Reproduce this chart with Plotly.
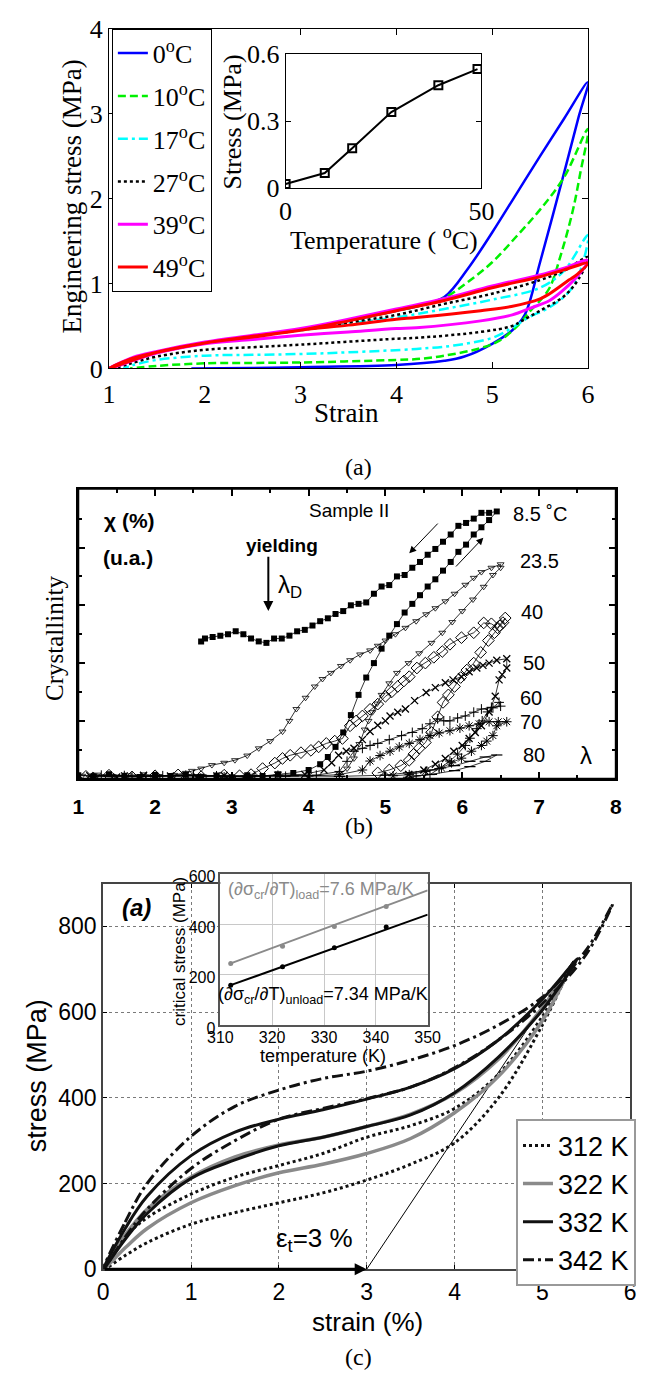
import plotly.graph_objects as go

W, H = 648, 1387
def px(x): return x / W
def py(y): return 1 - y / H

SERIF = "Liberation Serif"
SANS = "Liberation Sans"

# ---------------- panel (a) data ----------------
names_a = ["0<sup>o</sup>C", "10<sup>o</sup>C", "17<sup>o</sup>C", "27<sup>o</sup>C", "39<sup>o</sup>C", "49<sup>o</sup>C"]
colors_a = ["#0000FF", "#00F000", "#00FFFF", "#000000", "#FF00FF", "#FF0000"]
dashes_a = ["solid", "8px,4px", "10px,4px,3px,4px", "3px,3px", "solid", "solid"]

strain_0 = [1.0, 1.25, 1.5, 2.0, 2.5, 3.0, 3.5, 4.0, 4.25, 4.5, 4.75, 5.0, 5.25, 5.5, 5.75, 6.0,
            5.9, 5.75, 5.5, 5.34, 5.21, 5.0, 4.71, 4.5, 4.0, 3.0, 2.5, 1.86]
stress_0 = [0, 0.12, 0.19, 0.3, 0.38, 0.46, 0.56, 0.68, 0.74, 0.84, 1.18, 1.6, 2.05, 2.5, 2.94, 3.37,
            2.95, 2.3, 1.25, 0.63, 0.45, 0.29, 0.14, 0.09, 0.04, 0.015, 0.005, 0]
strain_10 = [1.0, 1.25, 1.5, 2.0, 2.5, 3.0, 3.5, 4.0, 4.25, 4.5, 4.75, 5.0, 5.25, 5.5, 5.75, 6.0,
             5.92, 5.84, 5.72, 5.6, 5.5, 5.4, 5.28, 5.08, 4.88, 4.5, 4.21, 4.0, 3.0, 2.5, 2.0, 1.5, 1.22]
stress_10 = [0, 0.12, 0.19, 0.3, 0.38, 0.46, 0.56, 0.68, 0.74, 0.83, 1.02, 1.25, 1.55, 1.87, 2.25, 2.82,
             2.3, 1.85, 1.35, 0.95, 0.8, 0.68, 0.52, 0.33, 0.24, 0.15, 0.11, 0.1, 0.07, 0.065, 0.06, 0.03, 0]
strain_17 = [1.0, 1.25, 1.5, 2.0, 2.5, 3.0, 3.5, 4.0, 4.5, 5.0, 5.5, 5.75, 6.0,
             5.92, 5.8, 5.6, 5.38, 5.21, 5.0, 4.6, 4.21, 3.5, 3.0, 2.5, 2.0, 1.5, 1.25, 1.15]
stress_17 = [0, 0.12, 0.19, 0.3, 0.38, 0.45, 0.53, 0.6, 0.7, 0.81, 0.95, 1.15, 1.57,
             1.15, 0.9, 0.72, 0.6, 0.48, 0.36, 0.27, 0.23, 0.19, 0.17, 0.16, 0.15, 0.1, 0.04, 0]
strain_27 = [1.0, 1.25, 1.5, 2.0, 2.5, 3.0, 3.5, 4.0, 4.5, 5.0, 5.5, 5.75, 6.0,
             5.9, 5.75, 5.5, 5.31, 5.21, 4.88, 4.21, 4.0, 3.0, 2.5, 2.0, 1.5, 1.2, 1.05]
stress_27 = [0, 0.12, 0.19, 0.3, 0.38, 0.45, 0.54, 0.63, 0.76, 0.88, 1.04, 1.15, 1.31,
             1.05, 0.85, 0.68, 0.56, 0.5, 0.43, 0.36, 0.35, 0.28, 0.25, 0.22, 0.14, 0.05, 0]
strain_39 = [1.0, 1.25, 1.5, 2.0, 2.5, 3.0, 3.5, 4.0, 4.5, 5.0, 5.5, 5.75, 6.0,
             5.9, 5.75, 5.6, 5.4, 5.21, 4.88, 4.21, 4.0, 3.5, 3.0, 2.5, 2.0, 1.5, 1.0]
stress_39 = [0, 0.13, 0.2, 0.31, 0.39, 0.47, 0.58, 0.7, 0.82, 0.97, 1.1, 1.18, 1.27,
             1.1, 0.93, 0.8, 0.71, 0.63, 0.56, 0.48, 0.47, 0.43, 0.39, 0.34, 0.29, 0.18, 0]
strain_49 = [1.0, 1.25, 1.5, 2.0, 2.5, 3.0, 3.5, 4.0, 4.5, 5.0, 5.5, 5.75, 6.0,
             5.9, 5.8, 5.6, 5.5, 5.2, 4.88, 4.21, 4.0, 3.5, 3.0, 2.5, 2.0, 1.5, 1.0]
stress_49 = [0, 0.12, 0.19, 0.3, 0.38, 0.45, 0.56, 0.68, 0.8, 0.95, 1.08, 1.16, 1.24,
             1.12, 1.04, 0.88, 0.82, 0.73, 0.68, 0.6, 0.58, 0.51, 0.45, 0.37, 0.3, 0.19, 0]
strains_a = [strain_0, strain_10, strain_17, strain_27, strain_39, strain_49]
stresses_a = [stress_0, stress_10, stress_17, stress_27, stress_39, stress_49]

inset_temp_a = [0, 10, 17, 27, 39, 49]
inset_stress_a = [0.019, 0.068, 0.179, 0.341, 0.461, 0.533]

# ---------------- panel (b) data ----------------
b85_x = [1.0, 1.2, 1.4, 1.6, 1.8, 2.0, 2.2, 2.4, 2.6, 2.8, 3.0, 3.2, 3.4, 3.6, 3.8, 4.0,
         4.15, 4.25, 4.35, 4.45, 4.55, 4.65, 4.75, 4.85, 4.95, 5.05, 5.15, 5.25, 5.35, 5.45, 5.55, 5.65,
         5.75, 5.85, 5.95, 6.05, 6.15, 6.25, 6.35, 6.45,
         6.35, 6.25, 6.15, 6.05, 5.95, 5.85, 5.75, 5.65, 5.55, 5.45, 5.35, 5.25, 5.15, 5.05, 4.95, 4.85,
         4.75, 4.65, 4.55, 4.45, 4.35, 4.25, 4.15, 4.05, 3.95, 3.85, 3.75, 3.65, 3.55, 3.45, 3.35, 3.25,
         3.15, 3.05, 2.95, 2.85, 2.75, 2.65, 2.6]
b85_y = [0.12, 0.08, 0.15, 0.1, 0.06, 0.13, 0.09, 0.14, 0.07, 0.11, 0.05, 0.12, 0.09, 0.15, 0.2, 0.3,
         0.5, 0.75, 1.1, 1.6, 2.2, 2.9, 3.5, 4.0, 4.5, 4.95, 5.35, 5.75, 6.05, 6.35, 6.65, 6.9,
         7.2, 7.5, 7.85, 8.1, 8.45, 8.7, 8.95, 9.25,
         9.2, 9.2, 9.0, 8.85, 8.75, 8.45, 8.2, 7.95, 7.75, 7.5, 7.3, 7.05, 7.0, 6.7, 6.65, 6.4,
         6.1, 6.05, 6.0, 5.8, 5.7, 5.55, 5.45, 5.3, 5.15, 5.1, 4.95, 4.85, 4.85, 4.7, 4.75, 4.85,
         5.0, 5.1, 5.0, 4.95, 4.9, 4.85, 4.75]
b235_x = [1.05, 1.25, 1.45, 1.65, 1.85, 2.05, 2.25, 2.4,
          2.48, 2.6, 2.74, 2.9, 3.04, 3.2, 3.35, 3.5, 3.66, 3.75, 3.84, 3.96, 4.08, 4.18, 4.29, 4.42,
          4.54, 4.67, 4.8, 4.9, 5.0, 5.13, 5.26, 5.4, 5.53, 5.65, 5.78, 5.9, 6.04, 6.15, 6.25, 6.38, 6.5,
          6.5, 6.4, 6.28, 6.14, 6.0, 5.87, 5.74, 5.6, 5.44, 5.3, 5.15, 5.05, 4.95, 4.89, 4.83, 4.78,
          4.73, 4.66, 4.59, 4.5, 4.4]
b235_y = [0.1, 0.14, 0.08, 0.12, 0.15, 0.09, 0.13, 0.2,
          0.27, 0.35, 0.47, 0.55, 0.64, 0.8, 1.05, 1.3, 1.63, 2.0, 2.41, 2.8, 3.19, 3.45, 3.66, 3.9,
          4.1, 4.3, 4.44, 4.6, 4.78, 5.0, 5.22, 5.45, 5.69, 5.9, 6.14, 6.4, 6.71, 6.95, 7.15, 7.3, 7.42,
          7.3, 7.05, 6.64, 6.2, 5.8, 5.42, 5.05, 4.7, 4.34, 4.0, 3.66, 3.3, 2.9, 2.6, 2.3, 2.0,
          1.7, 1.2, 0.7, 0.35, 0.15]
b40_x = [1.1, 1.4, 1.7, 2.0, 2.3, 2.6, 2.9, 3.1,
         3.25, 3.4, 3.56, 3.66, 3.76, 3.9, 4.03, 4.13, 4.23, 4.34, 4.44, 4.54, 4.62, 4.7, 4.8, 4.9,
         5.0, 5.08, 5.16, 5.24, 5.31, 5.41, 5.52, 5.63, 5.74, 5.84, 5.99, 6.15, 6.28, 6.38, 6.46, 6.56,
         6.53, 6.49, 6.42, 6.34, 6.24, 6.15, 6.06, 5.98, 5.9, 5.82, 5.75, 5.68, 5.6, 5.52, 5.44, 5.37,
         5.31, 5.2, 5.05, 4.9]
b40_y = [0.08, 0.12, 0.06, 0.1, 0.13, 0.07, 0.12, 0.1,
         0.14, 0.35, 0.54, 0.7, 0.81, 0.9, 0.98, 1.1, 1.22, 1.3, 1.39, 1.83, 2.0, 2.17, 2.4, 2.58,
         2.85, 3.0, 3.19, 3.38, 3.53, 3.83, 4.0, 4.2, 4.4, 4.65, 4.88, 5.05, 5.39, 5.36, 5.22, 5.56,
         5.4, 5.29, 5.05, 4.78, 4.37, 4.0, 3.76, 3.5, 3.19, 2.9, 2.64, 2.14, 1.6, 1.25, 1.05, 0.85,
         0.64, 0.45, 0.3, 0.2]
b50_x = [1.15, 1.5, 1.85, 2.2, 2.55, 2.9, 3.25, 3.6, 3.95, 4.2,
         4.3, 4.39, 4.49, 4.59, 4.7, 4.8, 4.9, 5.0, 5.06, 5.16, 5.26, 5.38, 5.53, 5.65, 5.78, 5.88,
         5.99, 6.09, 6.19, 6.27, 6.35, 6.45, 6.58,
         6.58, 6.52, 6.48, 6.43, 6.35, 6.25, 6.17, 6.09, 6.0, 5.89, 5.78, 5.65, 5.5, 5.3]
b50_y = [0.1, 0.06, 0.12, 0.09, 0.05, 0.11, 0.08, 0.12, 0.15, 0.3,
         0.55, 0.81, 0.95, 1.05, 1.35, 1.63, 1.85, 2.0, 2.17, 2.3, 2.41, 2.7, 2.98, 3.15, 3.32, 3.42,
         3.53, 3.7, 3.83, 3.92, 4.0, 4.1, 4.15,
         3.83, 3.6, 3.42, 2.85, 2.31, 1.83, 1.6, 1.39, 1.15, 0.95, 0.7, 0.5, 0.3, 0.15]
b60_x = [1.3, 1.7, 2.1, 2.5, 2.9, 3.3, 3.7, 4.1, 4.4,
         4.5, 4.59, 4.7, 4.8, 4.9, 5.05, 5.21, 5.35, 5.48, 5.58, 5.68, 5.76, 5.84, 5.94, 6.04, 6.15,
         6.25, 6.38, 6.5,
         6.48, 6.4, 6.33, 6.26, 6.19, 6.1, 6.04, 5.94, 5.84, 5.7, 5.58, 5.4]
b60_y = [0.12, 0.07, 0.1, 0.13, 0.06, 0.1, 0.08, 0.12, 0.25,
         0.6, 0.95, 1.05, 1.15, 1.22, 1.35, 1.49, 1.6, 1.73, 1.9, 2.07, 2.0, 2.0, 2.1, 2.17, 2.3,
         2.41, 2.47, 2.51,
         2.64, 2.45, 2.31, 2.0, 1.73, 1.4, 1.15, 0.85, 0.61, 0.35, 0.14, 0.1]
b70_x = [1.2, 1.6, 2.0, 2.4, 2.8, 3.2, 3.6, 4.0, 4.4, 4.7,
         4.8, 4.93, 5.06, 5.18, 5.31, 5.45, 5.58, 5.7, 5.84, 5.97, 6.09, 6.22, 6.35, 6.47, 6.58,
         6.45, 6.4, 6.32, 6.25, 6.12, 5.99, 5.86, 5.73, 5.52, 5.31, 5.1]
b70_y = [0.06, 0.11, 0.08, 0.12, 0.1, 0.05, 0.12, 0.09, 0.14, 0.3,
         0.61, 0.8, 0.95, 1.1, 1.22, 1.35, 1.49, 1.58, 1.66, 1.75, 1.83, 1.9, 1.97, 1.97, 1.97,
         1.83, 1.49, 1.3, 1.15, 0.95, 0.71, 0.55, 0.37, 0.25, 0.14, 0.1]
b80_x = [1.4, 2.0, 2.6, 3.2, 3.8, 4.4, 5.0, 5.3, 5.6, 5.9, 6.1, 6.3, 6.45, 6.3, 6.1, 5.9, 5.6, 5.3]
b80_y = [0.1, 0.08, 0.12, 0.07, 0.1, 0.08, 0.12, 0.2, 0.3, 0.45, 0.6, 0.75, 0.82, 0.6, 0.42, 0.28, 0.15, 0.05]
labels_b = ["8.5 \u02daC", "23.5", "40", "50", "60", "70", "80"]

# ---------------- panel (c) data ----------------
names_c = ["312 K", "322 K", "332 K", "342 K"]
strain_312 = [0, 0.25, 0.5, 1.0, 1.5, 2.0, 2.5, 3.0, 3.5, 4.0, 4.5, 5.0, 5.3,
              5.0, 4.5, 4.0, 3.5, 3.0, 2.5, 2.0, 1.5, 1.0, 0.5, 0.25, 0]
stress_312 = [0, 75, 120, 175, 215, 242, 270, 308, 335, 375, 455, 590, 700,
              570, 400, 295, 245, 208, 178, 155, 132, 105, 62, 32, 0]
strain_322 = [0, 0.25, 0.5, 1.0, 1.5, 2.0, 2.5, 3.0, 3.5, 4.0, 4.5, 5.0, 5.3,
              5.0, 4.5, 4.0, 3.5, 3.0, 2.5, 2.0, 1.5, 1.0, 0.5, 0.25, 0]
stress_322 = [0, 80, 140, 215, 262, 290, 308, 333, 362, 410, 490, 610, 700,
              580, 450, 365, 305, 270, 245, 225, 195, 155, 95, 50, 0]
strain_332 = [0, 0.25, 0.5, 1.0, 1.5, 2.0, 2.5, 3.0, 3.5, 4.0, 4.5, 5.0, 5.4,
              5.0, 4.5, 4.0, 3.5, 3.0, 2.5, 2.0, 1.5, 1.0, 0.5, 0.25, 0]
stress_332 = [0, 95, 170, 265, 320, 350, 372, 397, 425, 468, 535, 630, 725,
              605, 495, 412, 360, 333, 308, 288, 255, 212, 130, 70, 0]
strain_342 = [0, 0.25, 0.5, 1.0, 1.5, 2.0, 2.5, 3.0, 3.5, 4.0, 4.5, 5.0, 5.5, 5.8,
              5.5, 5.0, 4.5, 4.0, 3.5, 3.0, 2.5, 2.0, 1.5, 1.0, 0.5, 0.25, 0]
stress_342 = [0, 110, 200, 310, 380, 418, 445, 462, 488, 522, 570, 635, 745, 852,
              735, 620, 535, 470, 425, 398, 375, 350, 300, 235, 140, 75, 0]
strains_c = [strain_312, strain_322, strain_332, strain_342]
stresses_c = [stress_312, stress_322, stress_332, stress_342]
colors_c = ["#111111", "#8a8a8a", "#111111", "#111111"]
dashes_c = ["3px,3px", "solid", "solid", "11px,4px,3px,4px"]

elastic_strain = [3.0, 5.35]
elastic_stress = [0, 720]

temp_c = [312, 322, 332, 342]
crit_load = [245, 313, 391, 470]
crit_unload = [159, 232, 307, 389]
fit_temp = [312, 350]
fit_load = [245, 534]
fit_unload = [159, 438]

# ---------------- figure ----------------
fig = go.Figure()

for i in range(6):
    fig.add_trace(go.Scatter(
        x=strains_a[i], y=stresses_a[i], mode="lines", name=names_a[i],
        legend="legend", legendgroup=names_a[i],
        line=dict(color=colors_a[i], width=3 if i in (4, 5) else 2.5, dash=dashes_a[i], shape="spline", smoothing=1.0),
        xaxis="x", yaxis="y"))

fig.add_trace(go.Scatter(x=inset_temp_a, y=inset_stress_a, mode="lines+markers", showlegend=False,
                         line=dict(color="black", width=2),
                         marker=dict(symbol="square-open", size=8, color="black", line=dict(width=2)),
                         xaxis="x2", yaxis="y2"))

b_series = [
    (b85_x, b85_y, "square", 6, 0),
    (b235_x, b235_y, "triangle-down-open", 6, 0.8),
    (b40_x, b40_y, "diamond-open", 9, 1),
    (b50_x, b50_y, "x-thin", 7, 1.3),
    (b60_x, b60_y, "cross-thin", 7, 1),
    (b70_x, b70_y, "asterisk", 8, 1),
    (b80_x, b80_y, "line-ew", 8, 1.2),
]
for bx, by, sym, sz, lw in b_series:
    fig.add_trace(go.Scatter(x=bx, y=by, mode="lines+markers", showlegend=False,
                             line=dict(color="black", width=0.8),
                             marker=dict(symbol=sym, size=sz, color="black", line=dict(color="black", width=lw)),
                             xaxis="x3", yaxis="y3"))

fig.add_trace(go.Scatter(x=elastic_strain, y=elastic_stress, mode="lines", showlegend=False,
                         line=dict(color="black", width=1), xaxis="x4", yaxis="y4"))
for i in range(4):
    fig.add_trace(go.Scatter(
        x=strains_c[i], y=stresses_c[i], mode="lines", name=names_c[i], legend="legend2",
        line=dict(color=colors_c[i], width=3.5 if i == 1 else 3, dash=dashes_c[i], shape="spline", smoothing=1.0),
        xaxis="x4", yaxis="y4"))

fig.add_trace(go.Scatter(x=fit_temp, y=fit_load, mode="lines", showlegend=False,
                         line=dict(color="#8a8a8a", width=2), xaxis="x5", yaxis="y5"))
fig.add_trace(go.Scatter(x=fit_temp, y=fit_unload, mode="lines", showlegend=False,
                         line=dict(color="black", width=2), xaxis="x5", yaxis="y5"))
fig.add_trace(go.Scatter(x=temp_c, y=crit_load, mode="markers", showlegend=False,
                         marker=dict(color="#8a8a8a", size=5), xaxis="x5", yaxis="y5"))
fig.add_trace(go.Scatter(x=temp_c, y=crit_unload, mode="markers", showlegend=False,
                         marker=dict(color="black", size=5), xaxis="x5", yaxis="y5"))

def ax(domain, rng, tickvals, anchor, font, ticktext=None, **kw):
    d = dict(domain=domain, range=rng, tickvals=tickvals, anchor=anchor, showgrid=False, zeroline=False,
             showline=True, linecolor="black", linewidth=1, mirror="ticks", ticks="inside", ticklen=6,
             tickcolor="black", tickfont=font)
    if ticktext is not None:
        d["ticktext"] = ticktext
    d.update(kw)
    return d

serif26 = dict(family=SERIF, size=26, color="black")
layout = dict(
    width=W, height=H, margin=dict(l=0, r=0, t=0, b=0),
    paper_bgcolor="white", plot_bgcolor="white",
    xaxis=ax([px(100), px(599)], [1, 6], [1, 2, 3, 4, 5, 6], "y", serif26, ticklabelstandoff=2),
    yaxis=ax([py(362), py(15)], [0, 4], [0, 1, 2, 3, 4], "x", serif26),
    xaxis2=ax([px(284), px(488)], [0, 50], [0, 50], "y2", serif26, ticklen=5),
    yaxis2=ax([py(178), py(41)], [0, 0.6], [0, 0.3, 0.6], "x2", serif26, ticktext=["0", "0.3", "0.6"], ticklen=5),
    xaxis3=ax([px(68), px(628)], [1, 8], [1, 2, 3, 4, 5, 6, 7, 8], "y3",
              dict(family=SANS, size=21, color="black", weight="bold"), linewidth=2, ticklen=7, tickwidth=1.5,
              ticklabelstandoff=8,
              minor=dict(tickvals=[1.5, 2.5, 3.5, 4.5, 5.5, 6.5, 7.5], ticks="inside", ticklen=4, tickcolor="black")),
    yaxis3=ax([py(781), py(485)], [0, 10.03], [2, 4, 6, 8], "x3", serif26, showticklabels=False,
              linewidth=2, ticklen=7, tickwidth=1.5,
              minor=dict(tickvals=[1, 3, 5, 7, 9], ticks="inside", ticklen=4, tickcolor="black")),
    xaxis4=ax([px(94), px(643)], [0, 6], [0, 1, 2, 3, 4, 5, 6], "y4",
              dict(family=SANS, size=23, color="black"), showgrid=True, gridcolor="#7a7a7a", griddash="dot",
              gridwidth=1, linecolor="#444", linewidth=2, ticklen=4, ticklabelstandoff=1),
    yaxis4=ax([py(1282), py(889)], [0, 898], [0, 200, 400, 600, 800], "x4",
              dict(family=SANS, size=23, color="black"), showgrid=True, gridcolor="#7a7a7a", griddash="dot",
              gridwidth=1, linecolor="#444", linewidth=2, ticklen=4),
    xaxis5=ax([px(216), px(432)], [310, 350], [310, 320, 330, 340, 350], "y5",
              dict(family=SANS, size=16, color="black"), showgrid=True, gridcolor="#c8c8c8", gridwidth=1,
              linecolor="#555", linewidth=1.5, ticks="", ticklabelstandoff=-3),
    yaxis5=ax([py(1033), py(878)], [0, 600], [0, 200, 400, 600], "x5",
              dict(family=SANS, size=16, color="black"), showgrid=True, gridcolor="#c8c8c8", gridwidth=1,
              linecolor="#555", linewidth=1.5, ticks="", ticklabelstandoff=0, ticklabelshift=3),
    legend=dict(x=px(103), y=py(15), xanchor="left", yanchor="top", bgcolor="white",
                bordercolor="black", borderwidth=1, font=dict(family=SERIF, size=26, color="black"),
                tracegroupgap=6, itemwidth=30),
    legend2=dict(x=px(524), y=py(1129), xanchor="left", yanchor="top", bgcolor="white",
                 bordercolor="#999", borderwidth=2, font=dict(family=SANS, size=27, color="black"),
                 tracegroupgap=0, itemwidth=30),
)
fig.update_layout(**layout)

# frame of panel (b)
fig.add_shape(type="rect", xref="x3 domain", yref="y3 domain", x0=0, x1=1, y0=0, y1=1,
              line=dict(color="black", width=2), layer="above")
# white background behind the panel (c) inset (covers main grid/frame there)
fig.add_shape(type="rect", xref="x5 domain", yref="y5 domain", x0=-0.24, x1=1.135, y0=-0.25, y1=1.07,
              fillcolor="white", line=dict(width=0), layer="below")

annotations = []
def text(t, x, y, size, family, color="black", xanchor="center", yanchor="middle", angle=0, **font_kw):
    f = dict(family=family, size=size, color=color)
    f.update(font_kw)
    annotations.append(dict(text=t, x=px(x), y=py(y), xref="paper", yref="paper", showarrow=False,
                            xanchor=xanchor, yanchor=yanchor, textangle=angle, font=f))

# panel (a)
text("Engineering stress (MPa)", 62, 187, 27, SERIF, angle=-90)
text("Strain", 347, 408, 27, SERIF)
text("Stress (MPa)", 229, 110, 26, SERIF, angle=-90)
text("Temperature ( <sup>o</sup>C)", 386, 229, 26, SERIF)
text("(a)", 360, 463, 24, SERIF)

# panel (b)
text("\u03c7 (%)", 121, 517, 21, SANS, weight="bold")
text("(u.a.)", 120, 555, 21, SANS, weight="bold")
text("Sample II", 350, 507, 19, SANS)
text("yielding", 280, 543, 19, SANS, weight="bold")
text("\u03bb<sub>D</sub>", 274, 585, 24, SANS, xanchor="left")
label_y_b = [511, 559, 611, 663, 699, 723, 757]
label_x_b = [519, 526, 527, 529, 526, 526, 529]
for lab, lx, ly in zip(labels_b, label_x_b, label_y_b):
    text(lab, lx, ly, 20, SANS, xanchor="left")
text("\u03bb", 597, 757, 24, SANS)
text("Crystallinity", 43, 637, 25, SERIF, angle=-90)
text("(b)", 360, 829, 24, SERIF)

# panel (c)
text("<b><i>(a)</i></b>", 129, 913, 24, SANS)
text("\u03b5<sub>t</sub>=3 %", 272, 1252, 26, SANS, xanchor="left")
text("stress (MPa)", 25, 1084, 27, SANS, angle=-90)
text("strain (%)", 369, 1336, 26, SANS)
text("(c)", 360, 1372, 24, SERIF)
text("critical stress (MPa)", 174, 958, 17, SANS, angle=-90)
text("temperature (K)", 323, 1064, 18, SANS)
text("(\u2202\u03c3<sub>cr</sub>/\u2202T)<sub>load</sub>=7.6 MPa/K", 222, 895, 18, SANS, color="#8a8a8a", xanchor="left")
text("(\u2202\u03c3<sub>cr</sub>/\u2202T)<sub>unload</sub>=7.34 MPa/K", 211, 1002, 18, SANS, xanchor="left")

# arrows
def arrow(xr, yr, x0, y0, x1, y1, width, head, size=1.0):
    annotations.append(dict(text="", x=x1, y=y1, ax=x0, ay=y0, xref=xr, yref=yr, axref=xr, ayref=yr,
                            showarrow=True, arrowhead=head, arrowwidth=width, arrowsize=size,
                            arrowcolor="black"))
arrow("x3", "y3", 3.475, 7.73, 3.475, 5.8, 2, 2, 1.0)
arrow("x3", "y3", 5.7, 8.88, 5.31, 7.8, 1, 2, 1.4)
arrow("x3", "y3", 5.9, 7.29, 6.275, 8.34, 1, 2, 1.4)
arrow("x4", "y4", 0.0, 0.0, 3.0, 0.0, 3, 2, 0.8)

fig.update_layout(annotations=annotations)
fig.write_html("out.html", config={"displayModeBar": False},
               post_script="document.body.style.margin='0px';document.body.style.overflow='hidden';")
